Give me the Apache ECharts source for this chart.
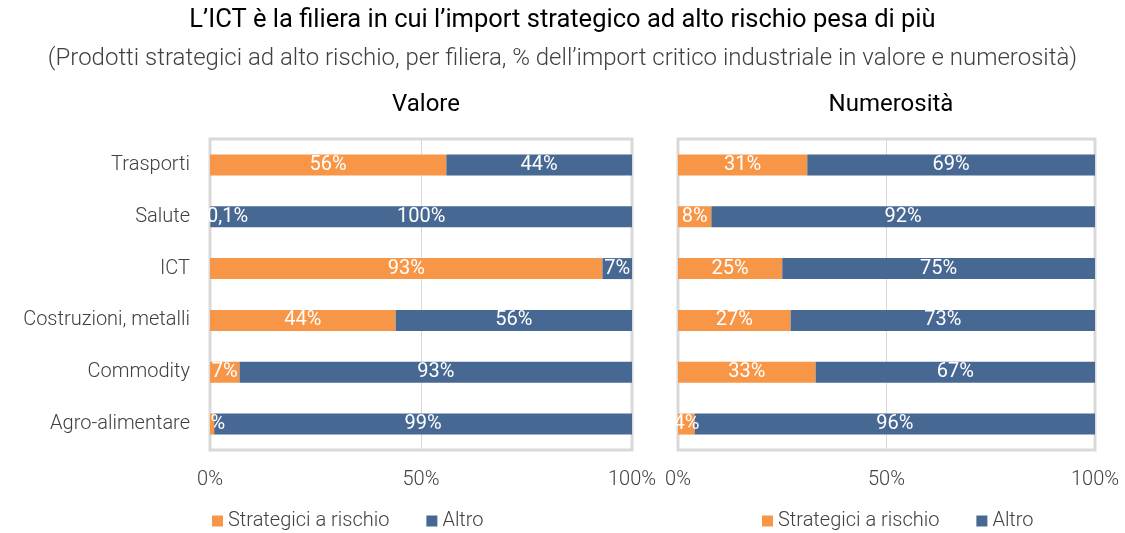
<!DOCTYPE html>
<html>
<head>
<meta charset="utf-8">
<script src="https://cdn.jsdelivr.net/npm/echarts@6/dist/echarts.min.js"></script>
<style>
  html, body { margin: 0; padding: 0; background: #fff; }
  #chart { width: 1125px; height: 533px; }
</style>
</head>
<body>
<div id="chart"></div>
<script>
const categories = ['Trasporti', 'Salute', 'ICT', 'Costruzioni, metalli', 'Commodity', 'Agro-alimentare'];
const valoreStrategici = [56, 0.1, 93, 44, 7, 1];
const valoreAltro = [44, 99.9, 7, 56, 93, 99];
const numerositaStrategici = [31, 8, 25, 27, 33, 4];
const numerositaAltro = [69, 92, 75, 73, 67, 96];
const xTicks = [0, 50, 100];

const ORANGE = '#F79646';
const BLUE = '#476892';
const FONT = 'Roboto';
const TXT = '#404040';

function fmt(v) {
  if (v < 1) return v.toFixed(1).replace('.', ',') + '%';
  return Math.round(v) + '%';
}

const chart = echarts.init(document.getElementById('chart'));

const grids = [
  { left: 210, right: 493, top: 139, bottom: 83 },
  { left: 678, right: 30, top: 139, bottom: 83 },
];

function xAxis(i) {
  return {
    type: 'value', gridIndex: i, min: xTicks[0], max: xTicks[xTicks.length - 1], interval: 50,
    axisLine: { show: false }, axisTick: { show: false },
    splitLine: { lineStyle: { color: '#d9d9d9', width: 1 } },
    axisLabel: { formatter: v => v + '%', color: TXT, fontSize: 20, fontFamily: FONT, fontWeight: 300, margin: 20 },
  };
}
function yAxis(i) {
  return {
    type: 'category', gridIndex: i, data: categories, inverse: true,
    axisLine: { show: false }, axisTick: { show: false },
    axisLabel: { show: i === 0, color: TXT, fontSize: 20, fontFamily: FONT, fontWeight: 300, margin: 20 },
  };
}
function barSeries(name, values, i, color) {
  return {
    name, type: 'bar', stack: 'p' + i, xAxisIndex: i, yAxisIndex: i, barWidth: 21,
    itemStyle: { color },
    label: {
      show: true, position: 'inside', color: '#fff', fontSize: 20, fontFamily: FONT,
      formatter: p => fmt(p.value),
    },
    // tiny segments: label starts near the left edge, as in the original
    data: values.map(v => v < 1
      ? { value: v, label: { position: 'insideLeft', distance: 0, offset: [-3, 0] } }
      : v),
  };
}

chart.setOption({
  animation: false,
  textStyle: { fontFamily: FONT },
  title: [
    { text: 'L\u2019ICT è la filiera in cui l\u2019import strategico ad alto rischio pesa di più', left: 'center', top: 3,
      textStyle: { fontSize: 25.5, fontWeight: 400, color: '#000', fontFamily: FONT } },
    { text: '(Prodotti strategici ad alto rischio, per filiera, % dell\u2019import critico industriale in valore e numerosità)', left: 'center', top: 42,
      textStyle: { fontSize: 24, fontWeight: 300, color: TXT, fontFamily: FONT } },
    { text: 'Valore', left: 421, textAlign: 'center', top: 88,
      textStyle: { fontSize: 24, fontWeight: 400, color: '#000', fontFamily: FONT } },
    { text: 'Numerosità', left: 886, textAlign: 'center', top: 88,
      textStyle: { fontSize: 24, fontWeight: 400, color: '#000', fontFamily: FONT } },
  ],
  legend: [
    { left: 207, top: 506, itemWidth: 11, itemHeight: 11, itemGap: 37, icon: 'rect',
      data: ['Strategici a rischio', 'Altro'],
      textStyle: { fontSize: 20, color: TXT, fontFamily: FONT, fontWeight: 300 } },
    { left: 757, top: 506, itemWidth: 11, itemHeight: 11, itemGap: 37, icon: 'rect',
      data: ['Strategici a rischio', 'Altro'],
      textStyle: { fontSize: 20, color: TXT, fontFamily: FONT, fontWeight: 300 } },
  ],
  grid: grids.map(g => Object.assign({ show: true, borderColor: '#d9d9d9', borderWidth: 3, containLabel: false }, g)),
  xAxis: [xAxis(0), xAxis(1)],
  yAxis: [yAxis(0), yAxis(1)],
  series: [
    barSeries('Strategici a rischio', valoreStrategici, 0, ORANGE),
    barSeries('Altro', valoreAltro, 0, BLUE),
    barSeries('Strategici a rischio', numerositaStrategici, 1, ORANGE),
    barSeries('Altro', numerositaAltro, 1, BLUE),
  ],
  // mask labels overflowing left of the plot areas
  graphic: [
    { type: 'rect', z: 100, shape: { x: 194, y: 145, width: 14, height: 300 }, style: { fill: '#fff' } },
    { type: 'rect', z: 100, shape: { x: 655, y: 145, width: 21, height: 300 }, style: { fill: '#fff' } },
  ],
});
</script>
</body>
</html>
